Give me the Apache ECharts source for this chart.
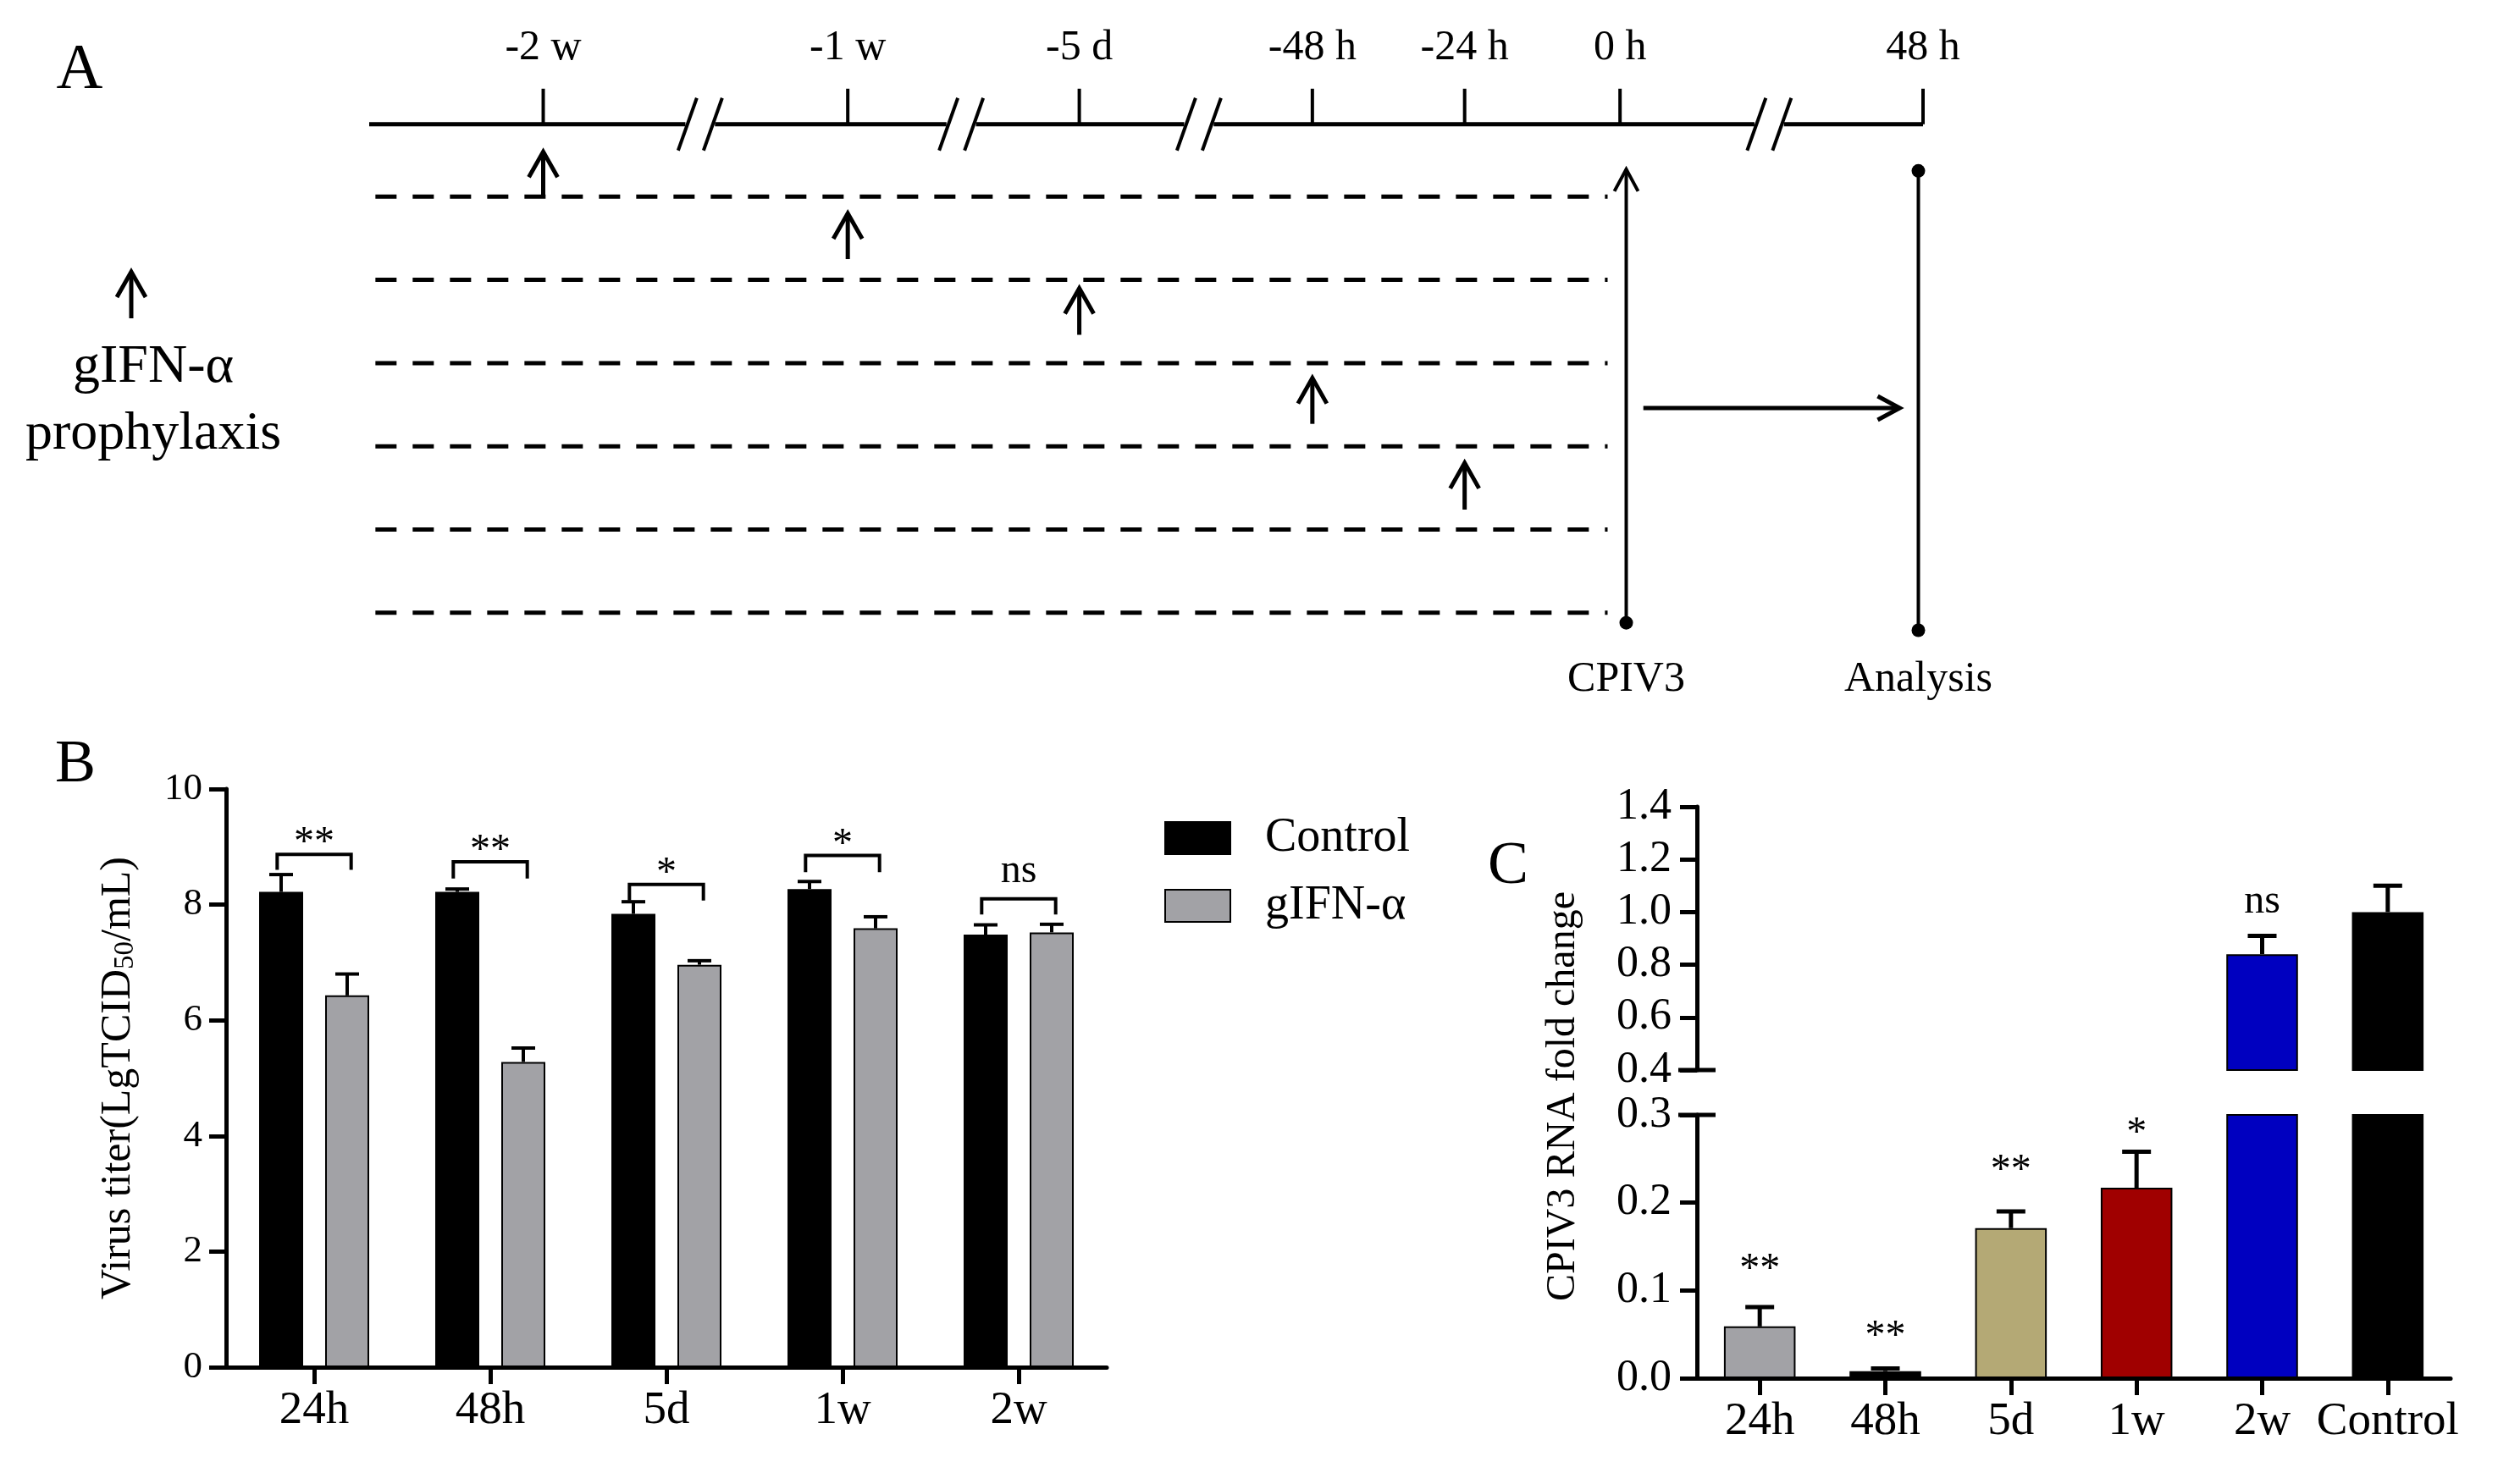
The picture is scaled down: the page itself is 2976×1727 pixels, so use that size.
<!DOCTYPE html>
<html>
<head>
<meta charset="utf-8">
<script src="https://cdn.jsdelivr.net/npm/echarts@6/dist/echarts.min.js"></script>
<style>
  html, body { margin: 0; padding: 0; background: #fff; }
  #main { width: 2976px; height: 1727px; }
</style>
</head>
<body>
<div id="main"></div>
<script>
const F = "'Liberation Serif', 'Times New Roman', Times, serif";

// ---- panel A: prophylaxis timeline (x in timeline units, y in group rows)
const timeLabels = ['-2 w', '-1 w', '-5 d', '-48 h', '-24 h', '0 h', '48 h'];
const timePos = [11.2, 30.8, 45.7, 60.7, 70.5, 80.5, 100];
const breakPos = [21.3, 38.1, 53.4, 90.1];
const timelineRow = 0.13;
const groupRows = [1, 2, 3, 4, 5, 6];
const dashSpan = [0.4, 79.7];
const doseBase = [1.0, 1.75, 2.66, 3.73, 4.76];
const doseTip = [0.46, 1.2, 2.1, 3.18, 4.2];
const eventLabels = ['CPIV3', 'Analysis'];
const eventX = [80.9, 99.7];
const eventFrom = [0.67, 0.69];
const eventTo = [6.12, 6.21];
const eventLabelRow = 6.8;
const followUp = [82.0, 98.5, 3.54];

// ---- panel B: virus titer
const groupsB = ['24h', '48h', '5d', '1w', '2w'];
const controlMean = [8.22, 8.22, 7.84, 8.27, 7.48];
const controlErr = [0.30, 0.05, 0.21, 0.13, 0.17];
const gifnMean = [6.43, 5.28, 6.96, 7.59, 7.52];
const gifnErr = [0.37, 0.24, 0.07, 0.20, 0.14];
const sigB = ['**', '**', '*', '*', 'ns'];
const bracketTopB = [8.87, 8.74, 8.35, 8.85, 8.10];
const bracketLegB = [8.60, 8.45, 8.07, 8.56, 7.83];
const sigLabelB = [9.05, 8.92, 8.53, 9.03, 8.57];

// ---- panel C: CPIV3 RNA fold change (broken axis)
const groupsC = ['24h', '48h', '5d', '1w', '2w', 'Control'];
const foldMean = [0.059, 0.008, 0.171, 0.217, 0.84, 1.0];
const foldErr = [0.022, 0.003, 0.019, 0.041, 0.07, 0.10];
const foldColors = ['#a2a2a6', '#000000', '#b4a975', '#a00000', '#0000c0', '#000000'];
const sigC = ['**', '**', '**', '*', 'ns', ''];
const sigCY = [0.123, 0.047, 0.236, 0.278, 1.038, null];
const breakC = [0.3, 0.4];

function lineEl(x1, y1, x2, y2, w, dash) {
  const style = { stroke: '#000', lineWidth: w };
  if (dash) style.lineDash = dash;
  return { type: 'line', shape: { x1, y1, x2, y2 }, style };
}
function textEl(x, y, t, size) {
  return {
    type: 'text', x, y,
    style: { text: t, fontSize: size, fontFamily: F, fill: '#000',
      align: 'center', verticalAlign: 'middle', textAlign: 'center', textVerticalAlign: 'middle' }
  };
}
function arrowEl(x1, y1, x2, y2, hl, hw, w) {
  const a = Math.atan2(y2 - y1, x2 - x1);
  const c = Math.cos(a), s = Math.sin(a);
  const bx = x2 - hl * c, by = y2 - hl * s;
  return {
    type: 'group',
    children: [
      lineEl(x1, y1, x2, y2, w),
      { type: 'polyline', shape: { points: [[bx - s * hw, by + c * hw], [x2, y2], [bx + s * hw, by - c * hw]] },
        style: { stroke: '#000', lineWidth: w, fill: null, lineJoin: 'miter' } }
    ]
  };
}

const timelineSegs = [];
let segStart = 0;
breakPos.forEach(b => { timelineSegs.push([segStart, b - 0.95, timelineRow]); segStart = b + 0.95; });
timelineSegs.push([segStart, 100, timelineRow]);

const axA = { xAxisIndex: 0, yAxisIndex: 0, silent: true, z: 5 };

const seriesA = [
  Object.assign({
    type: 'custom', data: timelineSegs, encode: { x: [0, 1], y: 2 },
    renderItem: (p, api) => {
      const a = api.coord([api.value(0), api.value(2)]);
      const b = api.coord([api.value(1), api.value(2)]);
      return lineEl(a[0], a[1], b[0], b[1], 5);
    }
  }, axA),
  Object.assign({
    type: 'custom', data: breakPos.map(b => [b, timelineRow]), encode: { x: 0, y: 1 },
    renderItem: (p, api) => {
      const c = api.coord([api.value(0), api.value(1)]);
      return { type: 'group', children: [
        lineEl(c[0] - 26, c[1] + 31, c[0] - 4, c[1] - 31, 4),
        lineEl(c[0] + 4, c[1] + 31, c[0] + 26, c[1] - 31, 4)
      ] };
    }
  }, axA),
  Object.assign({
    type: 'custom', data: timePos.map(x => [x, timelineRow]), encode: { x: 0, y: 1 },
    renderItem: (p, api) => {
      const c = api.coord([api.value(0), api.value(1)]);
      return { type: 'group', children: [
        lineEl(c[0], c[1], c[0], c[1] - 42, 4),
        textEl(c[0], c[1] - 90, timeLabels[p.dataIndex], 50)
      ] };
    }
  }, axA),
  Object.assign({
    type: 'custom', data: groupRows.map(r => [dashSpan[0], dashSpan[1], r]), encode: { x: [0, 1], y: 2 },
    renderItem: (p, api) => {
      const a = api.coord([api.value(0), api.value(2)]);
      const b = api.coord([api.value(1), api.value(2)]);
      return lineEl(a[0], a[1], b[0], b[1], 5, [25, 19]);
    }
  }, axA),
  Object.assign({
    type: 'custom', data: doseBase.map((b, i) => [timePos[i], b, doseTip[i]]), encode: { x: 0, y: [1, 2] },
    renderItem: (p, api) => {
      const a = api.coord([api.value(0), api.value(1)]);
      const b = api.coord([api.value(0), api.value(2)]);
      return arrowEl(a[0], a[1], b[0], b[1], 30, 17, 5);
    }
  }, axA),
  Object.assign({
    type: 'custom', data: eventX.map((x, i) => [x, eventFrom[i], eventTo[i], eventLabelRow]), encode: { x: 0, y: [1, 2] },
    renderItem: (p, api) => {
      const top = api.coord([api.value(0), api.value(1)]);
      const bot = api.coord([api.value(0), api.value(2)]);
      const lab = api.coord([api.value(0), api.value(3)]);
      const kids = [];
      if (p.dataIndex === 0) {
        kids.push(arrowEl(bot[0], bot[1], top[0], top[1], 26, 14, 4));
      } else {
        kids.push(lineEl(top[0], top[1], bot[0], bot[1], 4));
        kids.push({ type: 'circle', shape: { cx: top[0], cy: top[1], r: 8 }, style: { fill: '#000' } });
      }
      kids.push({ type: 'circle', shape: { cx: bot[0], cy: bot[1], r: 8 }, style: { fill: '#000' } });
      kids.push(textEl(lab[0], lab[1], eventLabels[p.dataIndex], 50));
      return { type: 'group', children: kids };
    }
  }, axA),
  Object.assign({
    type: 'custom', data: [followUp], encode: { x: [0, 1], y: 2 },
    renderItem: (p, api) => {
      const a = api.coord([api.value(0), api.value(2)]);
      const b = api.coord([api.value(1), api.value(2)]);
      return arrowEl(a[0], a[1], b[0], b[1], 26, 14, 5);
    }
  }, axA)
];

// ---- panel B series
const seriesB = [
  { name: 'Control', type: 'bar', xAxisIndex: 1, yAxisIndex: 1, data: controlMean,
    barWidth: '25%', barGap: '50%', itemStyle: { color: '#000', borderColor: '#000', borderWidth: 2 } },
  { name: 'gIFN-α', type: 'bar', xAxisIndex: 1, yAxisIndex: 1, data: gifnMean,
    barWidth: '25%', barGap: '50%', itemStyle: { color: '#a2a2a6', borderColor: '#000', borderWidth: 2 } },
  { type: 'custom', xAxisIndex: 1, yAxisIndex: 1, silent: true, z: 5, encode: { x: 0, y: 1 },
    data: controlMean.map((m, i) => [i, m, controlErr[i], -1])
      .concat(gifnMean.map((m, i) => [i, m, gifnErr[i], 1])),
    renderItem: (p, api) => {
      const band = api.size([1, 0])[0];
      const a = api.coord([api.value(0), api.value(1)]);
      const b = api.coord([api.value(0), api.value(1) + api.value(2)]);
      const x = a[0] + api.value(3) * 0.1875 * band;
      return { type: 'group', children: [lineEl(x, a[1], x, b[1], 4), lineEl(x - 14, b[1], x + 14, b[1], 4)] };
    } },
  { type: 'custom', xAxisIndex: 1, yAxisIndex: 1, silent: true, z: 5, encode: { x: 0, y: 1 },
    data: groupsB.map((g, i) => [i, bracketTopB[i], bracketLegB[i], sigLabelB[i]]),
    renderItem: (p, api) => {
      const band = api.size([1, 0])[0];
      const t = api.coord([api.value(0), api.value(1)]);
      const l = api.coord([api.value(0), api.value(2)]);
      const s = api.coord([api.value(0), api.value(3)]);
      const xl = t[0] - 0.21 * band, xr = t[0] + 0.21 * band;
      return { type: 'group', children: [
        { type: 'polyline', shape: { points: [[xl, l[1]], [xl, t[1]], [xr, t[1]], [xr, l[1]]] },
          style: { stroke: '#000', lineWidth: 4, fill: null } },
        textEl(t[0], s[1], sigB[p.dataIndex], 48)
      ] };
    } }
];

// ---- panel C series (lower grid 2, upper grid 3)
function foldBars(ax) {
  return { type: 'bar', xAxisIndex: ax, yAxisIndex: ax, barWidth: '57%',
    data: foldMean.map((v, i) => ({ value: v, itemStyle: { color: foldColors[i] } })),
    itemStyle: { borderColor: '#000', borderWidth: 2 } };
}
function foldErrors(ax, idx) {
  return { type: 'custom', xAxisIndex: ax, yAxisIndex: ax, silent: true, z: 5, encode: { x: 0, y: 1 },
    data: idx.map(i => [i, foldMean[i], foldErr[i]]),
    renderItem: (p, api) => {
      const a = api.coord([api.value(0), api.value(1)]);
      const b = api.coord([api.value(0), api.value(1) + api.value(2)]);
      return { type: 'group', children: [lineEl(a[0], a[1], a[0], b[1], 5), lineEl(a[0] - 17, b[1], a[0] + 17, b[1], 5)] };
    } };
}
function foldSig(ax, idx) {
  return { type: 'custom', xAxisIndex: ax, yAxisIndex: ax, silent: true, z: 5, encode: { x: 0, y: 1 },
    data: idx.map(i => [i, sigCY[i]]),
    renderItem: (p, api) => {
      const c = api.coord([api.value(0), api.value(1)]);
      return textEl(c[0], c[1], sigC[idx[p.dataIndex]], 48);
    } };
}
function breakCap(ax, v) {
  return { type: 'custom', xAxisIndex: ax, yAxisIndex: ax, silent: true, z: 6, encode: { x: 0, y: 1 },
    data: [[0, v]],
    renderItem: (p, api) => {
      const c = api.coord([0, api.value(1)]);
      const x = c[0] - api.size([1, 0])[0] / 2;
      return lineEl(x - 22, c[1], x + 22, c[1], 5);
    } };
}
const allIdx = foldMean.map((v, i) => i);
const seriesC = [
  foldBars(2),
  foldErrors(2, allIdx.filter(i => foldMean[i] + foldErr[i] <= breakC[0])),
  foldSig(2, allIdx.filter(i => sigC[i] && sigCY[i] < breakC[0])),
  breakCap(2, breakC[0]),
  foldBars(3),
  foldErrors(3, allIdx.filter(i => foldMean[i] >= breakC[1])),
  foldSig(3, allIdx.filter(i => sigC[i] && sigCY[i] > breakC[1])),
  breakCap(3, breakC[1])
];

const axisLineStyle = { show: true, lineStyle: { color: '#000', width: 5 } };
const axisTickStyle = { show: true, length: 20, lineStyle: { color: '#000', width: 5 } };
function catAxis(grid, data) {
  return { type: 'category', gridIndex: grid, data,
    axisLine: axisLineStyle, axisTick: Object.assign({ alignWithLabel: true }, axisTickStyle),
    axisLabel: { fontSize: 55, fontFamily: F, color: '#000', margin: 24, interval: 0 } };
}
function valAxis(grid, min, max, interval, size, margin, fmt) {
  return { type: 'value', gridIndex: grid, min, max, interval,
    axisLine: axisLineStyle, axisTick: axisTickStyle, splitLine: { show: false },
    axisLabel: { fontSize: size, fontFamily: F, color: '#000', margin, formatter: fmt } };
}

const option = {
  animation: false,
  backgroundColor: '#fff',
  grid: [
    { left: 436, top: 134, width: 1835, height: 639, outerBoundsMode: 'none' },
    { left: 267, top: 932, width: 1040, height: 683, outerBoundsMode: 'none' },
    { left: 2004, top: 1317, width: 890, height: 311, outerBoundsMode: 'none' },
    { left: 2004, top: 953, width: 890, height: 311, outerBoundsMode: 'none' }
  ],
  xAxis: [
    { type: 'value', gridIndex: 0, min: 0, max: 100, show: false },
    catAxis(1, groupsB),
    catAxis(2, groupsC),
    { type: 'category', gridIndex: 3, data: groupsC, show: false }
  ],
  yAxis: [
    { type: 'value', gridIndex: 0, min: 0, max: 6.5, inverse: true, show: false },
    Object.assign(valAxis(1, 0, 10, 2, 45, 28, v => String(v)), {
      name: '{a|Virus titer(LgTCID}{b|50}{a|/mL)}',
      nameLocation: 'middle', nameRotate: 90, nameGap: 102,
      nameTextStyle: { fontFamily: F, fontSize: 50, color: '#000',
        rich: { a: { fontFamily: F, fontSize: 50, color: '#000' },
                b: { fontFamily: F, fontSize: 33, color: '#000', verticalAlign: 'bottom', padding: [16, 0, 0, 0] } } }
    }),
    valAxis(2, 0, breakC[0], 0.1, 52, 30, v => v.toFixed(1)),
    valAxis(3, breakC[1], 1.4, 0.2, 52, 30, v => v.toFixed(1))
  ],
  legend: {
    data: ['Control', 'gIFN-α'], orient: 'vertical', left: 1370, top: 957,
    itemWidth: 77, itemHeight: 38, itemGap: 24, icon: 'rect', selectedMode: false,
    formatter: '{t|{name}}',
    textStyle: { fontFamily: F, fontSize: 56, color: '#000',
      rich: { t: { fontFamily: F, fontSize: 56, color: '#000', lineHeight: 56, padding: [0, 0, 0, 36] } } }
  },
  graphic: [
    textEl(94, 84, 'A', 76),
    textEl(89, 904, 'B', 72),
    textEl(1781, 1024, 'C', 72),
    arrowEl(155, 376, 155, 321, 30, 17, 5),
    textEl(181, 434, 'gIFN-α', 64),
    textEl(181, 513, 'prophylaxis', 64),
    Object.assign(textEl(1846, 1295, 'CPIV3 RNA fold change', 48), { rotation: Math.PI / 2 })
  ],
  series: seriesA.concat(seriesB, seriesC)
};

const chart = echarts.init(document.getElementById('main'));
chart.setOption(option);
</script>
</body>
</html>
